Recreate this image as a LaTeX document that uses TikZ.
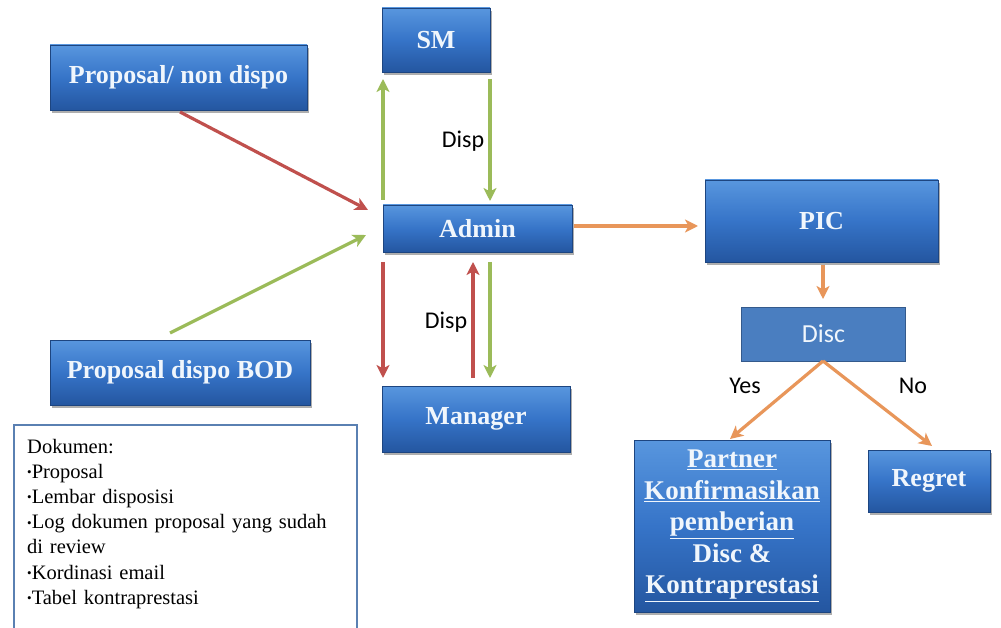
\documentclass[tikz,border=0pt]{standalone}
\usepackage{fontspec}
\setmainfont{Liberation Serif}
\newfontfamily\calibri{Carlito}
\usetikzlibrary{arrows.meta,shadows}

\definecolor{boxtop}{RGB}{88,150,222}
\definecolor{boxmid}{RGB}{54,116,200}
\definecolor{boxbot}{RGB}{36,86,160}
\definecolor{discfill}{RGB}{74,126,192}
\definecolor{discline}{RGB}{52,90,140}
\definecolor{notebd}{RGB}{90,128,178}
\definecolor{redarr}{RGB}{192,80,77}
\definecolor{greenarr}{RGB}{155,187,89}
\definecolor{orangearr}{RGB}{232,150,90}
\definecolor{boxtext}{RGB}{240,246,252}

\tikzset{
  bluebox/.style={rectangle, inner sep=0pt, align=center,
    top color=boxtop, bottom color=boxbot, middle color=boxmid,
    draw=boxbot!80!black, line width=0.4pt,
    drop shadow={shadow xshift=2pt, shadow yshift=-3pt, opacity=0.45, fill=black!70},
    text=boxtext, font=\fontsize{26}{30}\selectfont\bfseries},
  discbox/.style={rectangle, inner sep=0pt, fill=discfill, draw=discline, line width=1pt,
    text=boxtext, font=\calibri\fontsize{26}{30}\selectfont},
  notebox/.style={rectangle, inner sep=0pt, draw=notebd, line width=1.6pt, fill=white},
  lbl/.style={inner sep=0pt, anchor=base, font=\calibri\fontsize{24}{28}\selectfont, text=black},
  flow/.style={line width=3.2pt, -{Stealth[length=13pt,width=13pt,inset=3.5pt]}},
  redflow/.style={flow, draw=redarr},
  greenflow/.style={flow, draw=greenarr},
  orangeflow/.style={flow, draw=orangearr},
}
\newcommand{\docbullet}{{\fontsize{13}{13}\selectfont\raisebox{0.12em}{\textbullet}}}

\begin{document}
\begin{tikzpicture}[x=1pt,y=-1pt]
\useasboundingbox (0,0) rectangle (1001,628);
\fill[white] (0,0) rectangle (1001,628);

% boxes
\node[bluebox, minimum width=257pt, minimum height=65pt] (pnd) at (178.5,77.5) {Proposal/ non dispo};
\node[bluebox, minimum width=260pt, minimum height=65pt] (bod) at (180,372.5) {Proposal dispo BOD};
\node[bluebox, minimum width=108pt, minimum height=64pt] (sm) at (436,40) {SM};
\node[bluebox, minimum width=189pt, minimum height=47pt] (admin) at (477.5,228.5) {Admin};
\node[bluebox, minimum width=188pt, minimum height=66pt] (mgr) at (476,419) {Manager};
\node[bluebox, minimum width=233pt, minimum height=82pt] (pic) at (821.5,221) {PIC};
\node[discbox, minimum width=164pt, minimum height=54pt] (disc) at (823.5,334) {Disc};
\node[bluebox, minimum width=196pt, minimum height=172pt,
      font=\fontsize{27}{31.5}\selectfont\bfseries] (partner) at (732,526)
  {\underline{Partner}\\ \underline{Konfirmasikan}\\ \underline{pemberian}\\ Disc \&\\ \underline{Kontraprestasi}};
\node[bluebox, minimum width=122pt, minimum height=62pt] (regret) at (929,481) {Regret};

% document list
\node[notebox, minimum width=343pt, minimum height=206pt] (docs) at (185.5,528) {};
\node[anchor=base west, inner sep=0pt, align=left, text width=330pt,
      font=\fontsize{20.5}{25.2}\selectfont] (doclist) at (27,453)
  {Dokumen:\\
   \docbullet Proposal\\
   \docbullet Lembar disposisi\\
   \docbullet Log dokumen proposal yang sudah\\
   di review\\
   \docbullet Kordinasi email\\
   \docbullet Tabel kontraprestasi};

% connector end points
\coordinate (pndOut) at (180,112);
\coordinate (bodOut) at (170,333);
\coordinate (adminIn1) at (368,210);
\coordinate (adminIn2) at (366,235);
\coordinate (adminTopL) at (383,200);
\coordinate (smBotL) at (383,79);
\coordinate (smBotR) at (490,79);
\coordinate (adminTopR) at (490,201);
\coordinate (adminBotL) at (383,262);
\coordinate (mgrTopL) at (383,378);
\coordinate (mgrTopM) at (473,378);
\coordinate (adminBotM) at (473,262);
\coordinate (adminBotR) at (490,262);
\coordinate (mgrTopR) at (490,378);
\coordinate (adminOut) at (574,226);
\coordinate (picIn) at (698,226);
\coordinate (picOut) at (823,265);
\coordinate (discIn) at (823,299);
\coordinate (discOut) at (823,361);
\coordinate (partnerIn) at (730,439);
\coordinate (regretIn) at (932,446);

% flow into Admin
\draw[redflow] (pndOut) -- (adminIn1);
\draw[greenflow] (bodOut) -- (adminIn2);

% Admin <-> SM
\draw[greenflow] (adminTopL) -- (smBotL);
\draw[greenflow] (smBotR) -- (adminTopR);

% Admin <-> Manager
\draw[redflow] (adminBotL) -- (mgrTopL);
\draw[redflow] (mgrTopM) -- (adminBotM);
\draw[greenflow] (adminBotR) -- (mgrTopR);

% Admin -> PIC -> Disc -> outcomes
\draw[orangeflow] (adminOut) -- (picIn);
\draw[orangeflow] (picOut) -- (discIn);
\draw[orangeflow] (discOut) -- (partnerIn);
\draw[orangeflow] (discOut) -- (regretIn);

% labels
\node[lbl] (disp1) at (463,148) {Disp};
\node[lbl] (disp2) at (446,328) {Disp};
\node[lbl] (yes) at (745,393) {Yes};
\node[lbl] (no) at (913,393) {No};
\end{tikzpicture}
\end{document}
